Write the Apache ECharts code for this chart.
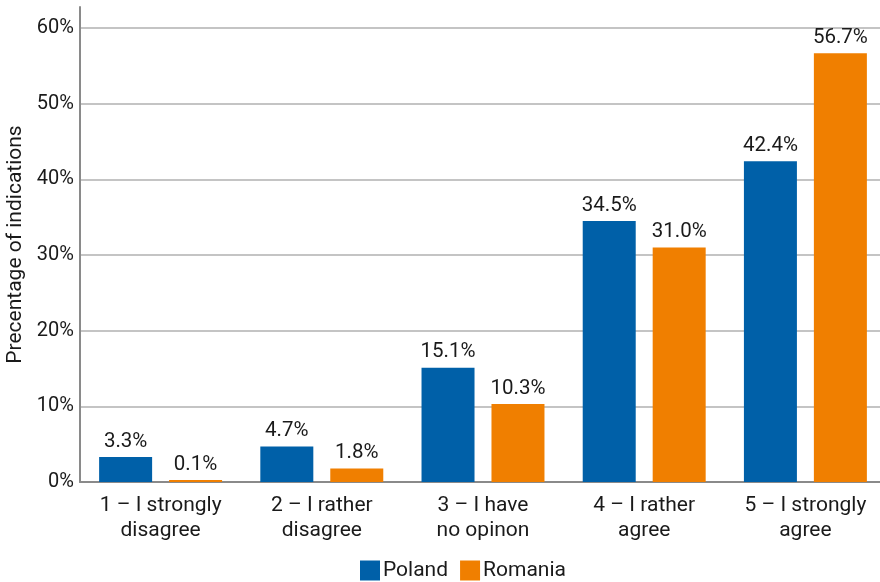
<!DOCTYPE html>
<html>
<head>
<meta charset="utf-8">
<script src="https://cdn.jsdelivr.net/npm/echarts@6/dist/echarts.min.js"></script>
<style>
  html, body { margin: 0; padding: 0; background: #fff; }
  #chart { width: 880px; height: 582px; }
</style>
</head>
<body>
<div id="chart"></div>
<script>
// Answer categories (Likert scale)
const categories = [
  '1 – I strongly\ndisagree',
  '2 – I rather\ndisagree',
  '3 – I have\nno opinon',
  '4 – I rather\nagree',
  '5 – I strongly\nagree'
];
// Share of indications, %
const poland = [3.3, 4.7, 15.1, 34.5, 42.4];
const romania = [0.1, 1.8, 10.3, 31.0, 56.7];
const seriesNames = ['Poland', 'Romania'];
const yTicks = [0, 10, 20, 30, 40, 50, 60];

const FONT = "Roboto, sans-serif";
const TXT = '#1a1a1a';

const chart = echarts.init(document.getElementById('chart'), null, { renderer: 'canvas' });

const labelCfg = {
  show: true,
  position: 'top',
  distance: 5,
  color: TXT,
  fontFamily: FONT,
  fontSize: 20.5,
  formatter: p => p.value.toFixed(1) + '%'
};

chart.setOption({
  animation: false,
  textStyle: { fontFamily: FONT },
  grid: { left: 80, top: 7, width: 806, height: 475, containLabel: false, outerBoundsMode: 'none' },
  legend: {
    data: seriesNames,
    bottom: 1,
    left: 360,
    padding: 0,
    itemWidth: 20,
    itemHeight: 20,
    itemGap: 12,
    icon: 'rect',
    textStyle: { color: TXT, fontSize: 21, fontFamily: FONT, padding: [0, 0, 0, -2] }
  },
  xAxis: {
    type: 'category',
    data: categories,
    axisLine: { lineStyle: { color: '#8a8a8a', width: 2 } },
    axisTick: { show: false },
    axisLabel: {
      color: TXT,
      fontSize: 21,
      fontFamily: FONT,
      lineHeight: 25,
      margin: 11,
      interval: 0
    }
  },
  yAxis: {
    type: 'value',
    min: 0,
    max: 62.8,
    interval: 10,
    name: 'Precentage of indications',
    nameLocation: 'middle',
    nameGap: 48,
    nameTextStyle: { color: TXT, fontSize: 21, fontFamily: FONT },
    axisLine: { show: true, lineStyle: { color: '#8a8a8a', width: 2 } },
    axisTick: { show: false },
    axisLabel: {
      color: TXT,
      fontSize: 20,
      fontFamily: FONT,
      margin: 6,
      formatter: v => yTicks.includes(Math.round(v * 1000) / 1000) ? v + '%' : ''
    },
    splitLine: {
      lineStyle: {
        color: ['#c4c4c4', '#c4c4c4', '#c4c4c4', '#c4c4c4', '#c4c4c4', '#c4c4c4', '#c4c4c4', 'rgba(0,0,0,0)'],
        width: 2
      }
    }
  },
  series: [
    {
      name: seriesNames[0],
      type: 'bar',
      data: poland,
      barWidth: 53,
      barGap: '32%',
      barMinHeight: 2,
      itemStyle: { color: '#0060a8' },
      label: labelCfg
    },
    {
      name: seriesNames[1],
      type: 'bar',
      data: romania,
      barWidth: 53,
      barGap: '32%',
      barMinHeight: 2,
      itemStyle: { color: '#f07f00' },
      label: labelCfg
    }
  ]
});
</script>
</body>
</html>
